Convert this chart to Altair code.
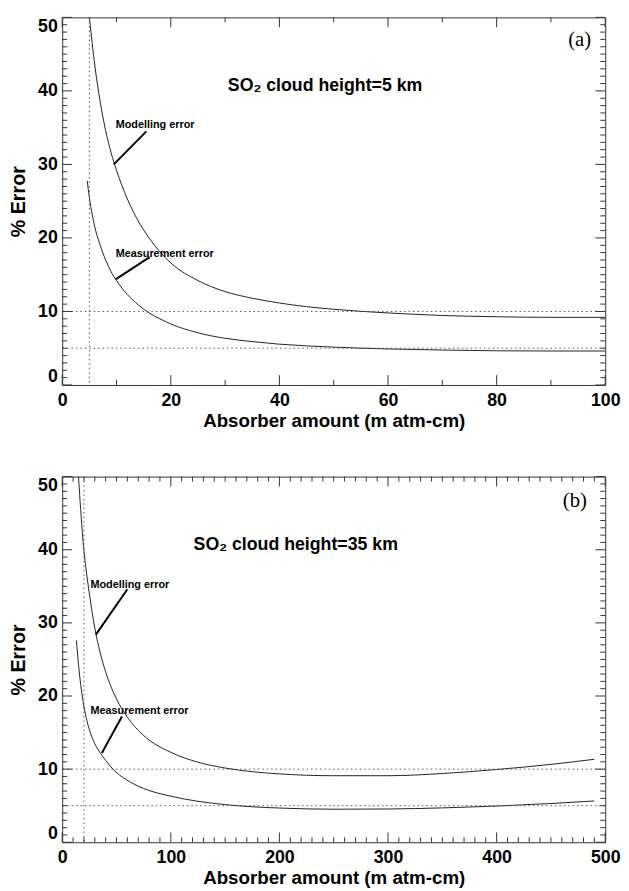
import altair as alt
import pandas as pd

# ---------------- data ----------------
# Panel (a): SO2 cloud height = 5 km
A_MOD_X = [5, 6, 7, 8, 9, 10, 12, 14, 16, 18, 20, 25, 30, 35, 40, 45, 50, 55, 60, 70, 80, 90, 100]
A_MOD_Y = [50, 43.5, 38.5, 34.6, 31.6, 29.2, 25.3, 22.3, 20.0, 18.1, 16.6, 14.2, 12.7, 11.8, 11.15, 10.65, 10.3, 10.02, 9.8, 9.45, 9.28, 9.2, 9.2]
A_MEAS_X = [4.6, 5, 6, 7, 8, 9, 10, 12, 14, 16, 18, 20, 25, 30, 35, 40, 50, 60, 70, 80, 90, 100]
A_MEAS_Y = [27.8, 25.5, 21.5, 19.0, 17.0, 15.4, 14.2, 12.3, 10.9, 9.8, 9.0, 8.3, 7.1, 6.35, 5.9, 5.55, 5.15, 4.9, 4.75, 4.65, 4.62, 4.62]

# Panel (b): SO2 cloud height = 35 km
B_MOD_X = [15, 17, 19.3, 22, 25, 30, 35, 40, 50, 60, 75, 100, 125, 150, 175, 200, 250, 300, 350, 400, 450, 490]
B_MOD_Y = [50, 45.5, 41, 37.3, 34.0, 29.3, 25.9, 23.3, 19.6, 17.1, 14.6, 12.3, 10.95, 10.15, 9.65, 9.35, 9.1, 9.1, 9.4, 9.95, 10.65, 11.35]
B_MEAS_X = [13.1, 15, 17, 19.3, 22, 25, 30, 36.5, 40, 46.7, 55, 63, 75, 100, 125, 150, 175, 200, 250, 300, 350, 400, 450, 490]
B_MEAS_Y = [27.6, 24.3, 21.6, 19.2, 17.1, 15.4, 13.5, 11.9, 11.2, 10.0, 8.95, 8.2, 7.35, 6.3, 5.6, 5.15, 4.85, 4.68, 4.52, 4.55, 4.7, 4.95, 5.3, 5.65]

# reference (dotted) lines
A_VLINE = [5]
B_VLINE = [20]
H_LINES = [10, 5]

# axis ticks
A_X_MAJOR = [0, 20, 40, 60, 80, 100]
A_X_MINOR = [10, 30, 50, 70, 90]
B_X_MAJOR = [0, 100, 200, 300, 400, 500]
B_X_MINOR = [v for v in range(10, 500, 10) if v % 100 != 0]
Y_MAJOR = [0, 10, 20, 30, 40, 50]
Y_MINOR = [v for v in range(1, 50) if v % 10 != 0]

# annotations
LABELS = ["Modelling error", "Measurement error"]
A_LABEL_X = [9.85, 9.85]
A_LABEL_Y = [35.3, 17.8]
A_PTR_X1 = [15.5, 16.1]
A_PTR_Y1 = [34.5, 17.4]
A_PTR_X2 = [9.5, 9.9]
A_PTR_Y2 = [30.0, 14.4]
B_LABEL_X = [26, 26]
B_LABEL_Y = [35.2, 17.9]
B_PTR_X1 = [60, 55]
B_PTR_Y1 = [34.6, 17.2]
B_PTR_X2 = [31, 36.5]
B_PTR_Y2 = [28.4, 12.2]

A_TITLE = "SO₂ cloud height=5 km"
A_TITLE_X, A_TITLE_Y = [30.5], [40.7]
B_TITLE = "SO₂ cloud height=35 km"
B_TITLE_X, B_TITLE_Y = [121], [40.7]
A_TAG, A_TAG_X, A_TAG_Y = "(a)", [95.3], [46.9]
B_TAG, B_TAG_X, B_TAG_Y = "(b)", [472], [46.6]

W = 551
FRAME = "#333333"
LINE = "#222222"


def panel(H, xmax, mod_x, mod_y, meas_x, meas_y, vline, xmajor, xminor,
          lab_x, lab_y, p_x1, p_y1, p_x2, p_y2, title, tx, ty, tag, gx, gy):
    xs = alt.Scale(domain=[0, xmax], nice=False, zero=False)
    ys = alt.Scale(domain=[0, 50], nice=False, zero=False)
    X = lambda f="x": alt.X(f"{f}:Q", scale=xs)
    Y = lambda f="y": alt.Y(f"{f}:Q", scale=ys)

    curves = pd.concat([
        pd.DataFrame({"x": mod_x, "y": mod_y, "s": "mod"}),
        pd.DataFrame({"x": meas_x, "y": meas_y, "s": "meas"}),
    ])
    lines = alt.Chart(curves).mark_line(
        color=LINE, strokeWidth=1, interpolate="monotone"
    ).encode(
        x=alt.X("x:Q", scale=xs, title="Absorber amount (m atm-cm)",
                axis=alt.Axis(values=xmajor)),
        y=alt.Y("y:Q", scale=ys, title="% Error",
                axis=alt.Axis(values=Y_MAJOR)),
        detail="s:N",
    )

    dot = dict(color="#555555", strokeWidth=1, strokeDash=[1.5, 3])
    vrule = alt.Chart(pd.DataFrame({"x": vline})).mark_rule(**dot).encode(x=X())
    hrule = alt.Chart(pd.DataFrame({"y": H_LINES})).mark_rule(**dot).encode(y=Y())

    def xt(vals, length):
        df = pd.DataFrame({"x": vals})
        b = alt.Chart(df).mark_rule(color=FRAME, strokeWidth=1).encode(
            x=X(), y=alt.value(H), y2=alt.value(H - length))
        t = alt.Chart(df).mark_rule(color=FRAME, strokeWidth=1).encode(
            x=X(), y=alt.value(0), y2=alt.value(length))
        return [b, t]

    def yt(vals, length):
        df = pd.DataFrame({"y": vals})
        l = alt.Chart(df).mark_rule(color=FRAME, strokeWidth=1).encode(
            y=Y(), x=alt.value(0), x2=alt.value(length))
        r = alt.Chart(df).mark_rule(color=FRAME, strokeWidth=1).encode(
            y=Y(), x=alt.value(W), x2=alt.value(W - length))
        return [l, r]

    ticks = xt(xmajor, 10) + xt(xminor, 5) + yt(Y_MAJOR, 10) + yt(Y_MINOR, 5)

    ann = pd.DataFrame({"x": lab_x, "y": lab_y, "t": LABELS})
    ann_text = alt.Chart(ann).mark_text(
        align="left", baseline="middle", font="Liberation Sans",
        fontWeight="bold", fontSize=11, color="black"
    ).encode(x=X(), y=Y(), text="t:N")
    ptr = pd.DataFrame({"x": p_x1, "y": p_y1, "x2": p_x2, "y2": p_y2})
    ptr_rule = alt.Chart(ptr).mark_rule(color="black", strokeWidth=2).encode(
        x=X(), y=Y(), x2="x2:Q", y2="y2:Q")

    ttl = alt.Chart(pd.DataFrame({"x": tx, "y": ty, "t": [title]})).mark_text(
        align="left", baseline="middle", font="Liberation Sans",
        fontWeight="bold", fontSize=18, color="black"
    ).encode(x=X(), y=Y(), text="t:N")
    tg = alt.Chart(pd.DataFrame({"x": gx, "y": gy, "t": [tag]})).mark_text(
        align="center", baseline="middle", font="Liberation Serif",
        fontSize=21, color="black"
    ).encode(x=X(), y=Y(), text="t:N")

    return alt.layer(lines, vrule, hrule, *ticks, ptr_rule, ann_text, ttl, tg).properties(
        width=W, height=H)


pa = panel(373, 100, A_MOD_X, A_MOD_Y, A_MEAS_X, A_MEAS_Y, A_VLINE, A_X_MAJOR, A_X_MINOR,
           A_LABEL_X, A_LABEL_Y, A_PTR_X1, A_PTR_Y1, A_PTR_X2, A_PTR_Y2,
           A_TITLE, A_TITLE_X, A_TITLE_Y, A_TAG, A_TAG_X, A_TAG_Y)
pb = panel(371, 500, B_MOD_X, B_MOD_Y, B_MEAS_X, B_MEAS_Y, B_VLINE, B_X_MAJOR, B_X_MINOR,
           B_LABEL_X, B_LABEL_Y, B_PTR_X1, B_PTR_Y1, B_PTR_X2, B_PTR_Y2,
           B_TITLE, B_TITLE_X, B_TITLE_Y, B_TAG, B_TAG_X, B_TAG_Y)

chart = alt.vconcat(pa, pb, spacing=43).properties(
    padding={"left": 0, "top": 0, "right": 0, "bottom": 0}
).configure(
    background="white"
).configure_view(
    stroke=FRAME, strokeWidth=1
).configure_axis(
    grid=False, ticks=False, domain=False,
    labelFont="Liberation Sans", labelFontWeight="bold", labelColor="black",
    labelFontSize=18,
    titleFont="Liberation Sans", titleFontWeight="bold", titleColor="black",
).configure_axisX(
    labelPadding=7, titlePadding=2, titleFontSize=19, labelFlush=False,
).configure_axisY(
    labelPadding=5, titlePadding=9, titleFontSize=20, labelFlush=True,
)

chart.save("out.html", embed_options={"renderer": "svg", "actions": False})
